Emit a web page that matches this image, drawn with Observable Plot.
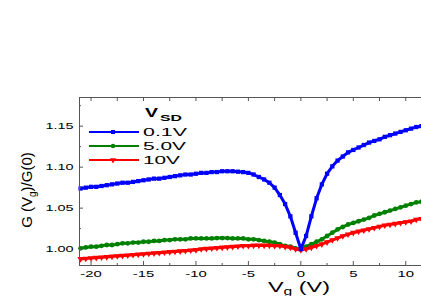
<!DOCTYPE html>
<html><head><meta charset="utf-8">
<script src="https://cdn.jsdelivr.net/npm/d3@7"></script>
<script src="https://cdn.jsdelivr.net/npm/@observablehq/plot@0.6"></script>
<style>
html,body{margin:0;padding:0;background:#fff;}
#chart{position:relative;width:421px;height:296px;overflow:hidden;}
</style></head><body><div id="chart"></div>
<script>
// gate voltage (V)
const vg = [
  -21,-20.5,-20,-19.5,-19,-18.5,-18,-17.5,-17,-16.5,
  -16,-15.5,-15,-14.5,-14,-13.5,-13,-12.5,-12,-11.5,
  -11,-10.5,-10,-9.5,-9,-8.5,-8,-7.5,-7,-6.5,
  -6,-5.5,-5,-4.5,-4,-3.5,-3,-2.5,-2,-1.5,
  -1,-0.5,0,0.5,1,1.5,2,2.5,3,3.5,
  4,4.5,5,5.5,6,6.5,7,7.5,8,8.5,
  9,9.5,10,10.5,11,11.5];
// G(Vg)/G(0) at VSD = 0.1 V
const g01 = [
  1.074,1.075,1.076,1.076,1.077,1.078,1.079,1.080,1.081,1.081,
  1.082,1.083,1.084,1.085,1.086,1.086,1.087,1.088,1.089,1.090,
  1.091,1.091,1.092,1.093,1.093,1.094,1.094,1.095,1.095,1.095,
  1.0945,1.094,1.093,1.091,1.088,1.085,1.081,1.075,1.066,1.055,
  1.040,1.020,1.000,1.016,1.040,1.062,1.079,1.092,1.101,1.108,
  1.113,1.118,1.121,1.124,1.127,1.130,1.132,1.134,1.137,1.139,
  1.141,1.143,1.145,1.147,1.149,1.150];
// VSD = 5.0 V
const g50 = [
  1.001,1.002,1.003,1.003,1.004,1.005,1.005,1.006,1.007,1.007,
  1.008,1.008,1.009,1.009,1.010,1.010,1.011,1.011,1.012,1.012,
  1.012,1.013,1.013,1.013,1.013,1.013,1.0135,1.0135,1.0135,1.013,
  1.013,1.013,1.012,1.012,1.011,1.010,1.009,1.008,1.006,1.004,
  1.003,1.001,1.000,1.003,1.006,1.009,1.012,1.016,1.020,1.024,
  1.027,1.030,1.032,1.034,1.036,1.038,1.041,1.043,1.045,1.047,
  1.049,1.051,1.053,1.055,1.057,1.058];
// VSD = 10 V
const g10 = [
  0.988,0.9885,0.989,0.9895,0.990,0.9905,0.991,0.9915,0.992,0.9925,
  0.993,0.9935,0.994,0.9945,0.995,0.9955,0.996,0.9965,0.997,0.9975,
  0.998,0.9985,0.999,1.000,1.0005,1.001,1.0015,1.002,1.0025,1.003,
  1.0035,1.004,1.004,1.0045,1.0045,1.0045,1.0045,1.004,1.004,1.003,
  1.002,1.000,0.999,1.000,1.002,1.004,1.006,1.0085,1.011,1.0135,
  1.016,1.018,1.020,1.0215,1.023,1.0245,1.026,1.0275,1.029,1.030,
  1.031,1.032,1.033,1.034,1.036,1.037];

const seriesNames = ["0.1V","5.0V","10V"];
const seriesColors = ["#0000ff","#008000","#ff0000"];
const seriesSymbols = ["square","circle","triangle"];
const seriesRotate = [0,0,180];
const xTicks = [-20,-15,-10,-5,0,5,10];
const xMinor = [-17.5,-12.5,-7.5,-2.5,2.5,7.5];
const yTicks = [1.00,1.05,1.10,1.15];
const yMinor = [1.025,1.075,1.125,1.175];
const xDomain = [-21.1,11.5];
const yDomain = [0.980,1.185];

const allSeries = [g01,g50,g10];
const rows = [];
allSeries.forEach((arr,i)=>arr.forEach((v,j)=>rows.push({vg:vg[j], g:v, s:seriesNames[i]})));

const axisCol = "#555";
const drawOrder = [1,2,0];
const marks = [];
for (const i of drawOrder) {
  const d = rows.filter(r=>r.s===seriesNames[i]);
  marks.push(Plot.line(d,{x:"vg",y:"g",stroke:seriesColors[i],strokeWidth:3}));
  marks.push(Plot.dot(d,{x:"vg",y:"g",symbol:seriesSymbols[i],rotate:seriesRotate[i],r:2.4,fill:seriesColors[i],stroke:"none"}));
}
marks.push(
  Plot.ruleX([xDomain[0]],{stroke:axisCol}),
  Plot.ruleY([yDomain[0],yDomain[1]],{stroke:axisCol}),
  Plot.axisX(xTicks,{anchor:"bottom",tickSize:-4,tickPadding:9,stroke:axisCol,fill:"#000",label:null,tickFormat:d=>String(d)}),
  Plot.axisX(xMinor,{anchor:"bottom",tickSize:-2,stroke:axisCol,label:null,tickFormat:()=>""}),
  Plot.axisX([...xTicks,...xMinor],{anchor:"top",tickSize:-3,stroke:axisCol,label:null,tickFormat:()=>""}),
  Plot.axisY(yTicks,{anchor:"left",tickSize:-4,tickPadding:10,stroke:axisCol,fill:"#000",label:null,tickFormat:d3.format(".2f")}),
  Plot.axisY(yMinor,{anchor:"left",tickSize:-2,stroke:axisCol,label:null,tickFormat:()=>""})
);

const chart = Plot.plot({
  width:421, height:296,
  marginLeft:79, marginTop:97, marginBottom:31, marginRight:0,
  x:{domain:xDomain},
  y:{domain:yDomain},
  style:{fontFamily:"'Liberation Sans', Arial, sans-serif", fontSize:"8.5px", background:"#fff", overflow:"visible"},
  marks
});
document.getElementById("chart").appendChild(chart);

const svg = d3.select(chart);
function stretch(nodes, factor){
  nodes.forEach(n=>{
    if(!n.textContent) return;
    const L = n.getComputedTextLength();
    n.setAttribute("textLength", (L*factor).toFixed(1));
    n.setAttribute("lengthAdjust","spacingAndGlyphs");
  });
}
stretch(Array.from(chart.querySelectorAll('[aria-label="x-axis tick label"] text')), 1.75);
stretch(Array.from(chart.querySelectorAll('[aria-label="y-axis tick label"] text')), 1.7);

const FONT = "'Liberation Sans', Arial, sans-serif";
// x label
const xl = svg.append("text").attr("x",268).attr("y",292).attr("text-anchor","start").attr("font-family",FONT).attr("font-size",15).attr("fill","#000")
  .attr("textLength",62).attr("lengthAdjust","spacingAndGlyphs");
xl.append("tspan").text("V");
xl.append("tspan").attr("font-size",10).attr("dy",3).text("g");
xl.append("tspan").attr("dy",-3).text(" (V)");
// y label
const yl = svg.append("text").attr("transform","translate(31.5,190) rotate(-90)").attr("text-anchor","middle")
  .attr("font-family",FONT).attr("font-size",15).attr("fill","#000");
yl.append("tspan").text("G (V");
yl.append("tspan").attr("font-size",10).attr("dy",4).text("g");
yl.append("tspan").attr("dy",-4).text(")/G(0)");

// legend
const lg = svg.append("g").attr("text-anchor","start");
lg.append("text").attr("x",145).attr("y",117).attr("font-family",FONT).attr("font-weight","bold").attr("font-size",13)
  .attr("textLength",13).attr("lengthAdjust","spacingAndGlyphs").text("V");
lg.append("text").attr("x",160).attr("y",121).attr("font-family",FONT).attr("font-weight","bold").attr("font-size",8.5)
  .attr("textLength",22).attr("lengthAdjust","spacingAndGlyphs").text("SD");
const legY = [132,146,160];
const legW = [44,43,37];
seriesNames.forEach((nm,i)=>{
  lg.append("line").attr("x1",89).attr("x2",139).attr("y1",legY[i]).attr("y2",legY[i]).attr("stroke",seriesColors[i]).attr("stroke-width",2);
  const sym = d3.symbol().type(i===0?d3.symbolSquare:i===1?d3.symbolCircle:d3.symbolTriangle).size(16);
  lg.append("path").attr("d",sym()).attr("fill",seriesColors[i])
    .attr("transform",`translate(113,${legY[i]})${i===2?" rotate(180)":""}`);
  lg.append("text").attr("x",143).attr("y",legY[i]+4).attr("font-family",FONT).attr("font-size",10.5).attr("fill","#000")
    .attr("textLength",legW[i]).attr("lengthAdjust","spacingAndGlyphs").text(nm);
});
</script></body></html>
